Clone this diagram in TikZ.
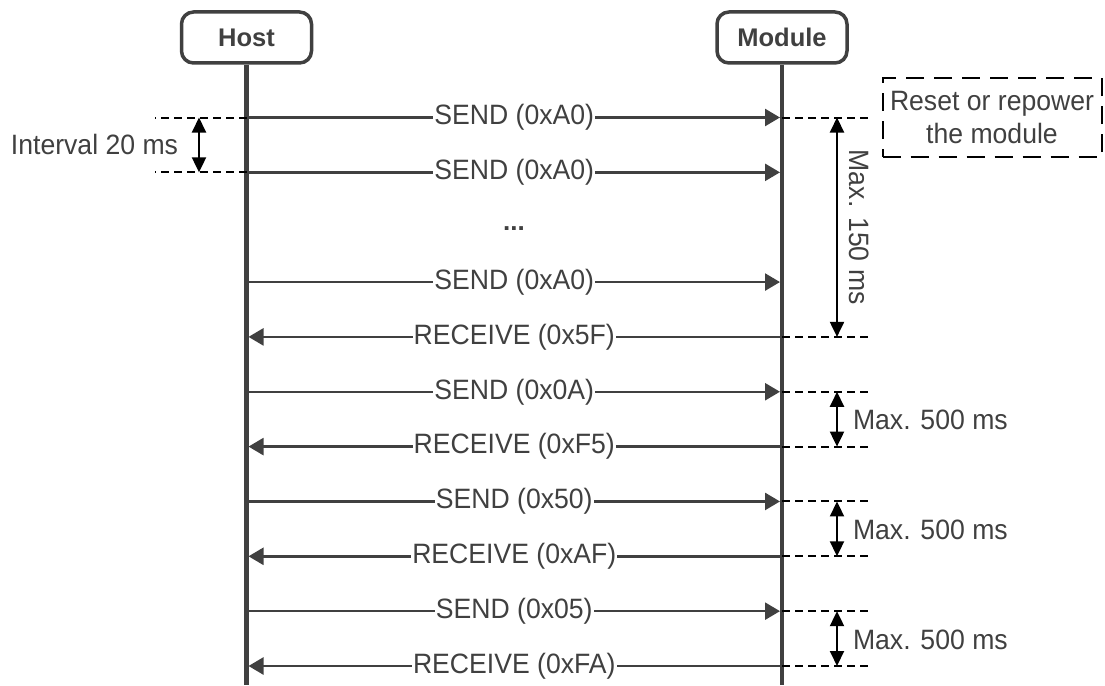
\documentclass[tikz,border=0pt]{standalone}
\usepackage{fontspec}
\setmainfont{Liberation Sans}[FakeStretch=0.95]
\newfontfamily\plainsans{Liberation Sans}
\usetikzlibrary{arrows.meta}
\definecolor{dg}{HTML}{404040}
\begin{document}
\begin{tikzpicture}[x=1pt,y=-1pt,
  font=\fontsize{28}{33}\selectfont,
  actor/.style={draw=dg,line width=3.5pt,rounded corners=12pt,minimum width=130pt,minimum height=51pt,font=\plainsans\fontsize{25.5}{31}\selectfont\bfseries,text=dg},
  life/.style={draw=dg,line width=4.5pt},
  msg/.style={draw=dg,line width=2.5pt,shorten >=2pt,-{Triangle[length=15pt,width=17pt]}},
  lbl/.style={fill=white,inner xsep=1pt,inner ysep=0pt,text=dg},
  guide/.style={draw=black,line width=2pt,dash pattern=on 8pt off 5pt},
  dimarrow/.style={draw=black,line width=2pt,{Triangle[length=15pt,width=14pt]}-{Triangle[length=15pt,width=14pt]}},
  note/.style={text=dg,inner sep=0pt},
  ]
\useasboundingbox (0,0) rectangle (1105,685);
% actors
\node[actor] (host) at (246.5,37.5) {Host};
\node[actor] (module) at (782,37.5) {Module};
\coordinate (hostend) at (246.5,685);
\coordinate (modend) at (782,685);
\draw[life] (host.south) -- (hostend);
\draw[life] (module.south) -- (modend);
% message coordinates
\foreach \k in {0,1,3,4,5,6,7,8,9,10}{
  \coordinate (h\k) at (246.5,{117.5+54.85*\k});
  \coordinate (m\k) at (782,{117.5+54.85*\k});
}
% messages
\draw[msg] (h0) -- node[lbl]{SEND (0xA0)} (m0);
\draw[msg] (h1) -- node[lbl]{SEND (0xA0)} (m1);
\node[text=dg,font=\plainsans\fontsize{26}{31}\selectfont\bfseries] (dots) at (514,229) {...};
\draw[msg] (h3) -- node[lbl]{SEND (0xA0)} (m3);
\draw[msg] (m4) -- node[lbl]{RECEIVE (0x5F)} (h4);
\draw[msg] (h5) -- node[lbl]{SEND (0x0A)} (m5);
\draw[msg] (m6) -- node[lbl]{RECEIVE (0xF5)} (h6);
\draw[msg] (h7) -- node[lbl]{SEND (0x50)} (m7);
\draw[msg] (m8) -- node[lbl]{RECEIVE (0xAF)} (h8);
\draw[msg] (h9) -- node[lbl]{SEND (0x05)} (m9);
\draw[msg] (m10) -- node[lbl]{RECEIVE (0xFA)} (h10);
% guides
\draw[guide] (h0) -- ++(-92,0) coordinate (gl0);
\draw[guide] (h1) -- ++(-92,0) coordinate (gl1);
\foreach \k in {0,4,5,6,7,8,9,10}{
  \draw[guide] (m\k) -- ++(88,0) coordinate (gr\k);
}
% dimension arrows
\coordinate (da) at (199,117.5);
\coordinate (db) at (199,172.35);
\draw[dimarrow] (da) -- node[note,anchor=east,xshift=-20pt]{Interval 20 ms} (db);
\coordinate (d0) at (837,117.5);
\coordinate (d4) at (837,336.9);
\draw[dimarrow] (d0) -- node[note,rotate=-90,anchor=south,yshift=11pt]{Max. 150 ms} (d4);
\foreach \a/\b in {5/6,7/8,9/10}{
  \coordinate (e\a) at (837,{117.5+54.85*\a});
  \coordinate (e\b) at (837,{117.5+54.85*\b});
  \draw[dimarrow] (e\a) -- node[note,anchor=west,xshift=15pt,yshift=-1pt]{Max. 500 ms} (e\b);
}
% reset box
\node[draw=black,line width=2pt,dash pattern=on 18pt off 10pt,minimum width=219pt,minimum height=79pt,align=center,text=dg,inner sep=0pt] (reset) at (992,117.5) {Reset or repower\\the module};
\end{tikzpicture}
\end{document}
